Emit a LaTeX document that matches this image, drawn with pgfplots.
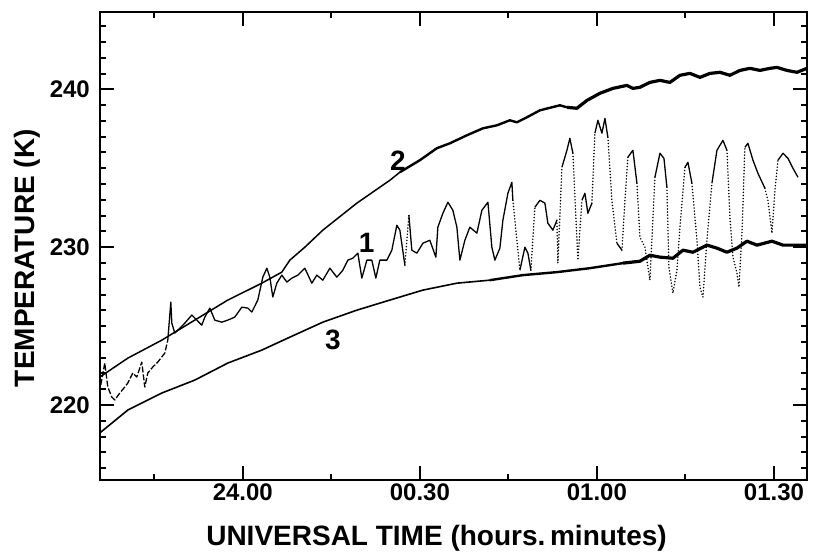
\documentclass[border=0pt]{standalone}
\usepackage{pgfplots}
\pgfplotsset{compat=1.18}
\usepackage{fontspec}
\setmainfont{Liberation Sans}
\begin{document}
\begin{tikzpicture}
\path[use as bounding box] (-100pt,-72pt) rectangle (713pt,480pt);
\begin{axis}[
  at={(0pt,0pt)}, anchor=south west,
  scale only axis, width=707pt, height=468pt,
  xmin=-24.2, xmax=95.6, ymin=215.25, ymax=244.9,
  axis line style={line width=2.8pt},
  xtick={0,30,60,90}, xticklabels={24.00,00.30,01.00,01.30},
  minor xtick={-15,15,45,75},
  ytick={220,230,240}, yticklabels={220,230,240},
  minor ytick={216,...,244},
  tick align=inside,
  major tick length=14pt, minor tick length=6pt,
  tick style={black, line width=2pt},
  ticklabel style={font=\fontsize{24}{28}\selectfont\bfseries},
  yticklabel style={inner sep=0pt, xshift=-10pt},
  xticklabel style={inner sep=0pt, yshift=-4pt},
  xlabel={UNIVERSAL TIME (hours.\,minutes)},
  ylabel={TEMPERATURE (K)},
  label style={font=\fontsize{28}{32}\selectfont\bfseries, inner sep=0pt},
  xlabel style={at={(axis description cs:0.476,0)}, anchor=north, yshift=-45pt},
  ylabel style={at={(axis description cs:0,0.474)}, anchor=center, yshift=73pt},
  c1/.style={black, line width=1.3pt, line join=round},
  c1d/.style={black, line width=1.6pt, line cap=round, dash pattern=on 0.1pt off 3pt},
]
% curve 1 (measured, noisy): broken start
\addplot[c1, dash pattern=on 6pt off 2pt] coordinates {
(-24.07,221.27) (-23.39,222.66) (-22.88,221.14) (-22.20,220.51) (-21.69,220.32)
(-20.85,220.76) (-20.00,221.14) (-19.49,221.39) (-18.64,222.03) (-17.97,221.77)
(-17.12,222.72) (-16.61,221.14) (-16.10,222.03) (-15.25,222.41) (-14.41,222.72)
(-13.22,223.29) (-12.71,224.11)
};
\addplot[c1] coordinates {
(-12.71,224.11) (-12.20,226.52) (-12.03,225.19) (-11.53,224.56)
(-10.68,224.87) (-9.83,225.19) (-8.64,225.70) (-7.80,225.38) (-6.95,225.06)
(-6.44,225.57) (-5.59,226.14) (-4.75,225.38) (-3.56,225.25) (-2.54,225.38)
(-1.36,225.57) (-0.17,226.20) (0.85,226.14) (1.53,225.89) (2.54,226.65)
(3.39,228.10) (4.07,228.67) (4.58,228.10) (5.08,226.84) (5.76,227.72)
(6.61,228.23) (7.46,227.79) (8.31,228.04) (9.32,228.23) (10.51,228.67)
(11.69,227.72) (12.54,228.23) (13.56,227.91) (14.75,228.67) (15.93,228.10)
(16.95,228.54) (17.80,229.18) (18.64,229.30) (19.49,229.62) (20.17,228.04)
(21.02,229.18) (21.86,229.18) (22.54,228.04) (23.22,229.18) (24.41,229.18)
(25.25,229.81) (26.10,231.39) (26.61,231.08) (27.46,228.86)
};
\addplot[c1d] coordinates {(27.46,228.86) (28.14,232.03)};
\addplot[c1] coordinates {
(28.14,232.03) (28.64,229.81) (29.49,229.62) (30.51,230.25) (31.69,230.44) (32.71,229.37)
(33.05,231.27) (33.90,232.15) (34.75,232.85) (35.59,232.34) (36.27,231.27)
(36.78,229.18) (37.63,230.44) (38.47,231.27) (39.66,230.89) (40.51,232.34)
(41.53,232.85) (42.20,230.00) (42.71,229.18) (43.56,229.94) (44.07,231.71)
(44.92,233.42) (45.59,234.11) (45.76,232.97)
};
\addplot[c1d] coordinates {(45.76,232.97) (46.44,230.44) (46.95,228.54)};
\addplot[c1] coordinates {(46.95,228.54) (47.80,230.00) (48.31,229.62) (48.81,228.54)};
\addplot[c1d] coordinates {(48.81,228.54) (49.49,232.53)};
\addplot[c1] coordinates {(49.49,232.53) (50.34,232.97) (51.19,232.79) (51.69,231.52) (52.54,231.08) (53.22,231.71)};
\addplot[c1d] coordinates {(53.22,231.71) (53.39,228.99) (54.07,235.06)};
\addplot[c1] coordinates {(54.07,235.06) (54.92,236.14) (55.42,236.90) (55.93,235.95)};
\addplot[c1d] coordinates {(55.93,235.95) (56.44,231.90) (56.78,229.18) (57.46,232.97)};
\addplot[c1] coordinates {(57.46,232.97) (57.97,233.42) (58.47,232.15) (59.15,232.79)};
\addplot[c1d] coordinates {(59.15,232.79) (59.66,237.22)};
\addplot[c1] coordinates {(59.66,237.22) (60.17,238.04) (60.85,237.22) (61.36,238.16) (61.86,236.96)};
\addplot[c1d] coordinates {(61.86,236.96) (62.54,232.97) (63.39,230.25)};
\addplot[c1] coordinates {(63.39,230.25) (64.24,229.81)};
\addplot[c1d] coordinates {(64.24,229.81) (64.75,232.97) (65.25,235.70)};
\addplot[c1] coordinates {(65.25,235.70) (66.10,236.14) (66.78,234.05)};
\addplot[c1d] coordinates {(66.78,234.05) (67.29,230.63) (68.14,230.00) (68.98,227.91) (69.83,234.43)};
\addplot[c1] coordinates {(69.83,234.43) (70.68,235.95) (71.36,235.63) (71.86,233.80)};
\addplot[c1d] coordinates {(71.86,233.80) (72.20,228.73) (72.88,227.09) (73.56,228.54) (74.07,231.27) (74.92,235.06)};
\addplot[c1] coordinates {(74.92,235.06) (75.42,235.38) (76.10,234.05)};
\addplot[c1d] coordinates {(76.10,234.05) (76.95,230.44) (77.46,227.47) (77.97,226.84) (78.64,230.44) (79.49,234.05)};
\addplot[c1] coordinates {(79.49,234.05) (80.34,236.14) (81.36,236.77) (82.03,236.14)};
\addplot[c1d] coordinates {(82.03,236.14) (82.54,231.90) (83.05,229.37) (83.73,228.35) (84.07,227.47) (84.58,230.89) (85.08,236.33)};
\addplot[c1] coordinates {(85.08,236.33) (85.59,236.58) (86.44,235.51) (87.29,234.68) (88.47,233.73)};
\addplot[c1d] coordinates {(88.47,233.73) (88.98,232.97) (89.66,230.89) (90.17,233.61) (90.68,235.51)};
\addplot[c1] coordinates {(90.68,235.51) (91.53,235.95) (92.37,235.63) (93.22,235.00) (94.07,234.43)};
% curve 2
\addplot[black, line width=1.5pt, line join=round] coordinates {
(-24.24,221.77) (-19.49,222.97) (-13.73,224.11) (-8.14,225.38) (-2.54,226.65)
(3.22,227.72) (6.61,228.42) (7.97,229.18) (10.51,230.00) (13.56,231.08)
(19.32,232.79) (24.92,234.24) (26.61,234.75)
};
\addplot[black, line width=2.4pt, line join=round] coordinates {
(26.61,234.75) (30.00,235.51) (32.88,236.27)
(35.08,236.58) (37.97,237.09) (40.68,237.53) (43.05,237.72) (45.25,238.04)
(46.44,237.91) (48.14,238.23) (50.34,238.67) (53.73,238.99) (54.92,238.86)
};
\addplot[black, line width=3.2pt, line join=round] coordinates {
(54.92,238.86)
(56.61,238.80) (58.31,239.30) (60.51,239.75) (62.71,240.06) (65.08,240.25)
(66.10,240.06) (67.29,240.13) (68.98,240.44) (70.68,240.57) (72.37,240.44)
(74.07,240.89) (75.76,241.01) (77.46,240.76) (79.15,241.01) (80.85,241.08)
(82.54,240.89) (84.24,241.20) (85.93,241.33) (87.63,241.20) (89.32,241.33)
(90.51,241.39) (92.20,241.20) (93.90,241.08) (95.59,241.33)
};
% curve 3
\addplot[black, line width=1.6pt, line join=round] coordinates {
(-24.24,218.23) (-19.49,219.68) (-13.73,220.76) (-8.14,221.58) (-2.54,222.66)
(3.22,223.48) (7.97,224.30) (13.56,225.25) (19.32,226.01) (24.92,226.65)
(30.51,227.28) (36.27,227.72) (41.86,227.91)
};
\addplot[black, line width=2.4pt, line join=round] coordinates {
(41.86,227.91) (47.46,228.23) (53.22,228.42)
(58.81,228.67) (64.41,228.99)
};
\addplot[black, line width=3.2pt, line join=round] coordinates {
(64.41,228.99) (67.29,229.11) (68.98,229.49) (70.68,229.37)
(72.88,229.30) (74.58,229.81) (76.27,229.68) (78.64,230.13) (80.34,229.94)
(82.03,229.68) (83.73,229.94) (85.42,230.38) (87.12,230.13) (89.66,230.38)
(91.53,230.13) (93.90,230.13) (95.59,230.13)
};
\node[font=\fontsize{28}{32}\selectfont\bfseries] at (axis cs:26.3,235.5) {2};
\node[font=\fontsize{28}{32}\selectfont\bfseries] at (axis cs:21.0,230.3) {1};
\node[font=\fontsize{28}{32}\selectfont\bfseries] at (axis cs:15.25,224.1) {3};
\end{axis}
\end{tikzpicture}
\end{document}
